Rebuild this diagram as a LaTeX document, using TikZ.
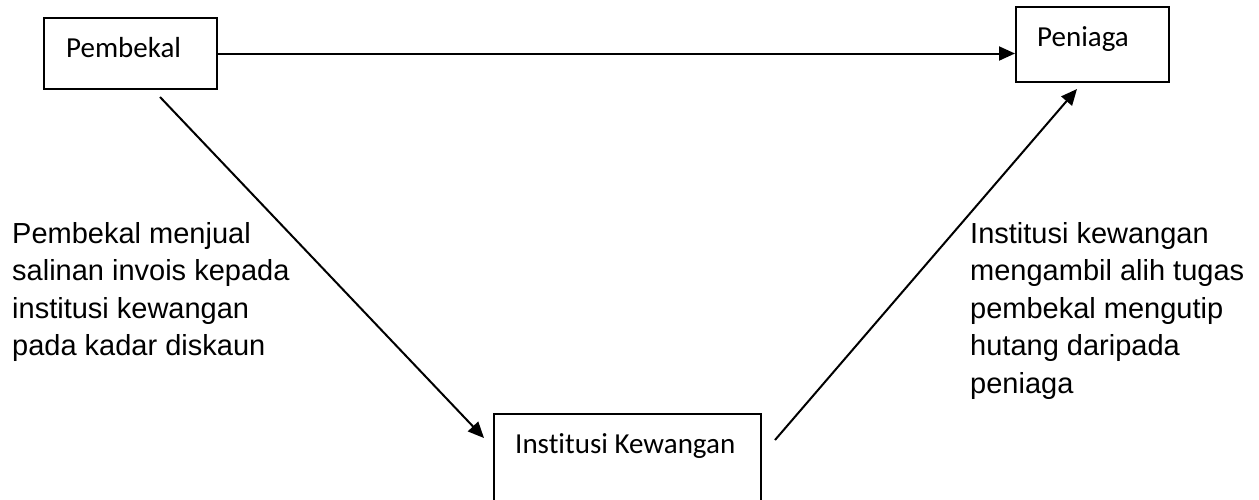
\documentclass[tikz,border=0pt]{standalone}
\usepackage{fontspec}
\setmainfont{Liberation Sans}
\newfontfamily\boxfont[Ligatures=NoCommon]{Carlito}
\usetikzlibrary{arrows.meta}
\begin{document}
\begin{tikzpicture}[x=1pt,y=-1pt,
  box/.style={draw, line width=2pt, inner sep=0pt},
  boxlabel/.style={font=\boxfont\fontsize{29}{35}\selectfont, anchor=base west, inner sep=0pt},
  side/.style={font=\fontsize{29}{37.5}\selectfont, align=left, anchor=base west, inner sep=0pt},
  arr/.style={line width=2pt, -{Triangle[length=16pt,width=14pt]}}]
\useasboundingbox (0,0) rectangle (1259,499);
\clip (0,0) rectangle (1259,499);
\node[box, minimum width=173pt, minimum height=71pt] (pembekal) at (130.5,53.5) {};
\node[box, minimum width=153pt, minimum height=75pt] (peniaga) at (1092.5,44.5) {};
\node[box, minimum width=267pt, minimum height=110pt] (institusi) at (627.5,469) {};
\node[boxlabel] (lpembekal) at (66,57) {Pembekal};
\node[boxlabel] (lpeniaga) at (1037,46) {Peniaga};
\node[boxlabel] (linstitusi) at (515,453) {Institusi Kewangan};
\coordinate (a1s) at (160,97);
\coordinate (a1e) at (484,438);
\coordinate (a2s) at (775,440);
\coordinate (a2e) at (1077,89);
\draw[arr] (pembekal.east) -- (peniaga.west |- pembekal.east);
\draw[arr] (a1s) -- (a1e);
\draw[arr] (a2s) -- (a2e);
\node[side] (tleft) at (12,355.5) {Pembekal menjual\\salinan invois kepada\\institusi kewangan\\pada kadar diskaun};
\node[side] (tright) at (970,393) {Institusi kewangan\\mengambil alih tugas\\pembekal mengutip\\hutang daripada\\peniaga};
\end{tikzpicture}
\end{document}
